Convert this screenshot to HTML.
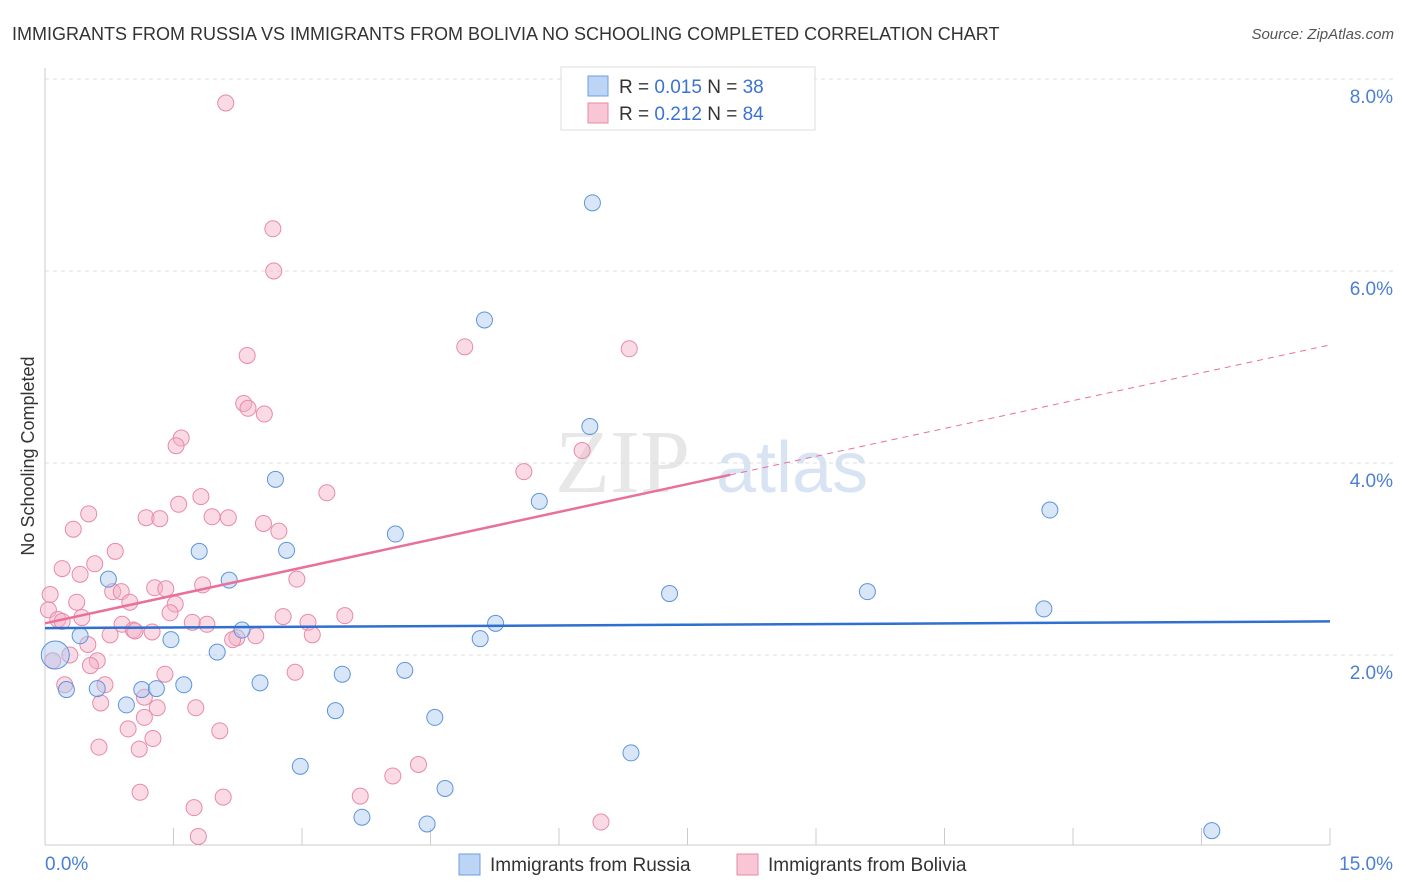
<!DOCTYPE html>
<html><head><meta charset="utf-8"><style>
body{margin:0;background:#fff;font-family:"Liberation Sans",sans-serif;}
svg{display:block}
</style></head><body>
<svg id="chart" width="1406" height="892" xmlns="http://www.w3.org/2000/svg" font-family="Liberation Sans, sans-serif">
<text x="12" y="40" font-size="18" fill="#333">IMMIGRANTS FROM RUSSIA VS IMMIGRANTS FROM BOLIVIA NO SCHOOLING COMPLETED CORRELATION CHART</text>
<text x="1394" y="39" font-size="15" fill="#555" font-style="italic" text-anchor="end">Source: ZipAtlas.com</text>
<g><text x="555" y="492" font-size="90" fill="#ddd" font-family="Liberation Serif, serif" opacity="0.7">ZIP</text><text x="716" y="492" font-size="72" fill="#c8daf0" opacity="0.7">atlas</text></g>
<g id="grid"></g>
<g id="axes"></g>
<g id="marks"></g>
<text transform="translate(34,456) rotate(-90)" font-size="18" fill="#333" text-anchor="middle">No Schooling Completed</text>
<g>
<rect x="561" y="67" width="254" height="63" fill="#fff" stroke="#ddd"/>
<rect x="588" y="76" width="20" height="20" fill="#bcd5f5" stroke="#6a9fe0"/>
<rect x="588" y="103" width="20" height="20" fill="#f9c6d6" stroke="#e88aa8"/>
<text x="619" y="93" font-size="19" fill="#333">R = <tspan fill="#3a74d0">0.015</tspan>   N = <tspan fill="#3a74d0">38</tspan></text>
<text x="619" y="120" font-size="19" fill="#333">R =  <tspan fill="#3a74d0">0.212</tspan>   N = <tspan fill="#3a74d0">84</tspan></text>
</g>
<g>
<rect x="459" y="854" width="21" height="21" fill="#bcd5f5" stroke="#6a9fe0"/>
<text x="490" y="871" font-size="19" fill="#333">Immigrants from Russia</text>
<rect x="737" y="854" width="21" height="21" fill="#f9c6d6" stroke="#e88aa8"/>
<text x="768" y="871" font-size="19" fill="#333">Immigrants from Bolivia</text>
</g>
</svg>
<script>
const xTickLabels=["0.0%","15.0%"];
const yTicks=[2,4,6,8];
const yTickLabels=["2.0%","4.0%","6.0%","8.0%"];
const russiaX=[6.39,5.13,6.36,2.69,5.77,11.73,4.09,2.82,1.80,2.15,0.74,7.29,9.60,11.66,5.26,2.30,0.41,1.47,5.08,2.01,0.12,4.20,3.47,0.25,0.61,1.13,1.30,1.62,2.51,0.95,3.39,4.55,6.84,2.98,4.67,3.70,4.46,13.62];
const russiaY=[6.71,5.49,4.38,3.83,3.60,3.51,3.26,3.09,3.08,2.78,2.79,2.64,2.66,2.48,2.33,2.26,2.20,2.16,2.17,2.03,2.00,1.84,1.80,1.64,1.65,1.64,1.65,1.69,1.71,1.48,1.42,1.35,0.98,0.84,0.61,0.31,0.24,0.17];
const boliviaX=[2.11,2.66,2.67,4.90,6.82,2.36,2.32,2.37,2.56,1.59,1.53,6.27,5.59,3.29,1.82,1.56,0.51,1.18,1.34,1.95,2.14,2.55,0.33,2.73,0.82,0.58,0.20,0.41,2.94,1.84,0.06,1.28,1.41,0.79,0.89,0.99,1.52,0.37,0.04,1.46,2.78,3.50,0.43,0.15,0.20,1.72,1.89,3.07,0.90,1.03,1.05,1.25,2.24,2.46,3.12,0.76,0.50,2.19,0.29,0.61,0.09,0.53,1.40,2.92,0.23,0.70,1.16,0.65,1.76,1.31,1.16,0.97,2.04,1.26,0.63,1.10,4.06,4.36,1.11,3.68,2.08,1.74,6.49,1.79];
const boliviaY=[7.75,6.44,6.00,5.21,5.19,5.12,4.62,4.57,4.51,4.26,4.18,4.13,3.91,3.69,3.65,3.57,3.47,3.43,3.42,3.44,3.43,3.37,3.31,3.29,3.08,2.95,2.90,2.84,2.79,2.73,2.63,2.70,2.69,2.66,2.66,2.55,2.53,2.55,2.47,2.44,2.40,2.41,2.39,2.37,2.35,2.34,2.32,2.34,2.32,2.26,2.25,2.24,2.18,2.20,2.21,2.21,2.11,2.16,2.00,1.94,1.94,1.89,1.80,1.82,1.69,1.69,1.56,1.50,1.45,1.45,1.35,1.23,1.21,1.13,1.04,1.02,0.74,0.86,0.57,0.53,0.52,0.41,0.26,0.11];
const russiaTrend=[2.28,2.35];
const boliviaTrend=[2.33,5.23];
const X0=45,X1=1330,Y0=847,PY=96;
const sx=v=>X0+(X1-X0)*v/15, sy=v=>Y0-v*PY;
const NS="http://www.w3.org/2000/svg";
function mk(t,a,p){const e=document.createElementNS(NS,t);for(const k in a)e.setAttribute(k,a[k]);p.appendChild(e);return e;}
const grid=document.getElementById('grid'),axes=document.getElementById('axes'),marks=document.getElementById('marks');
yTicks.forEach((v,i)=>{
 const l=mk('line',{x1:X0,x2:1395,y1:sy(v),y2:sy(v),stroke:'#ddd','stroke-dasharray':'4,4'},grid);
 
 
 const t=mk('text',{x:1393,y:sy(v)+24,'font-size':19,fill:'#4a7fd4','text-anchor':'end'},axes);
 t.textContent=yTickLabels[i];
 
 
});
mk('line',{x1:X0,x2:X0,y1:68,y2:845,stroke:'#ccc'},axes);
mk('line',{x1:X0,x2:X1,y1:845,y2:845,stroke:'#ccc'},axes);
for(let i=0;i<=10;i++){const x=sx(i*1.5);const tk=mk('line',{x1:x,x2:x,y1:828,y2:845,stroke:'#ccc'},axes);
 
 }
[[0,'start'],[15,'end']].forEach((p,i)=>{const t=mk('text',{x:i?1393:45,y:870,'font-size':19,fill:'#4a7fd4','text-anchor':p[1]},axes);t.textContent=xTickLabels[i];
 
 });
function pts(X,Y,fill,stroke,name){X.forEach((x,i)=>{const r=(name==='russia-point'&&i===20)?14:8;
 const c=mk('circle',{cx:sx(x),cy:sy(Y[i]),r:r,fill:fill,'fill-opacity':0.45,stroke:stroke,'stroke-width':1},marks);
 
 });}
pts(boliviaX,boliviaY,'#f5b0c6','#e88aa8','bolivia-point');
pts(russiaX,russiaY,'#a9c8f0','#5d95dc','russia-point');
const rl=mk('line',{x1:sx(0),y1:sy(russiaTrend[0]),x2:sx(15),y2:sy(russiaTrend[1]),stroke:'#2f6fd0','stroke-width':2.5},marks);


const bm=boliviaTrend[0]+(boliviaTrend[1]-boliviaTrend[0])*8/15;
const bl=mk('line',{x1:sx(0),y1:sy(boliviaTrend[0]),x2:sx(8),y2:sy(bm),stroke:'#e8709a','stroke-width':2.5},marks);


const bd=mk('line',{x1:sx(8),y1:sy(bm),x2:sx(15),y2:sy(boliviaTrend[1]),stroke:'#e8709a','stroke-width':1,'stroke-dasharray':'6,5'},marks);


</script>
</body></html>
